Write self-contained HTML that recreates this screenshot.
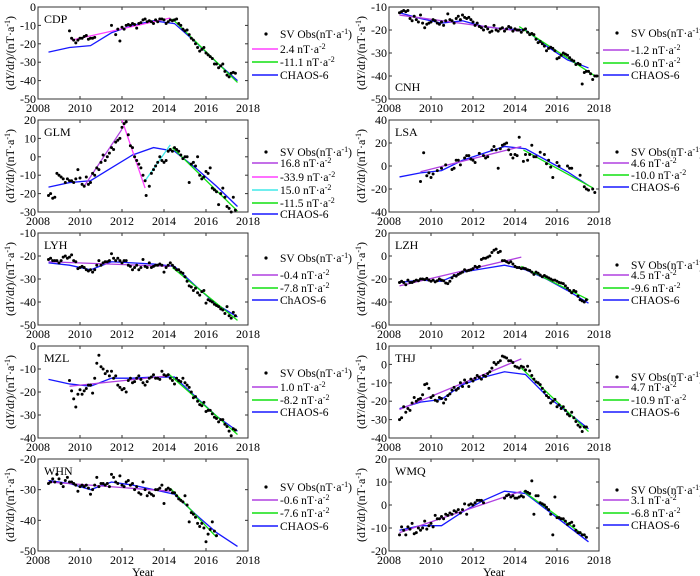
<!DOCTYPE html>
<html><head><meta charset="utf-8"><style>
html,body{margin:0;padding:0;background:#fff}
svg{display:block;font-family:"Liberation Serif",serif}
</style></head><body>
<svg id="chart" width="700" height="576" viewBox="0 0 700 576" xmlns="http://www.w3.org/2000/svg"></svg>
<script>
// ---- data arrays ----
const stations = ["CDP","GLM","LYH","MZL","WHN","CNH","LSA","LZH","THJ","WMQ"];
const yRanges = [[-50,0,10],[-30,20,10],[-50,-10,10],[-40,0,10],[-50,-20,10],[-50,-10,10],[-40,40,20],[-60,20,20],[-40,10,10],[-20,20,10]];
const obsCDP = [[2009.5,-13],[2009.6,-17],[2009.7,-18],[2009.8,-19.5],[2009.9,-18],[2010,-17],[2010.1,-17],[2010.2,-16],[2010.3,-15.5],[2010.4,-17.5],[2010.5,-17],[2010.6,-17],[2010.7,-16.5],[2011.5,-10],[2011.7,-15],[2011.8,-12],[2011.9,-18.5],[2012,-11],[2012.1,-12],[2012.2,-10],[2012.3,-9.5],[2012.4,-10],[2012.5,-9],[2012.6,-9.5],[2012.7,-11.5],[2012.8,-9],[2012.9,-8.5],[2013,-7],[2013.1,-6.5],[2013.2,-8],[2013.3,-7.5],[2013.4,-8],[2013.5,-9],[2013.6,-7],[2013.7,-8],[2013.8,-6.5],[2013.9,-6.5],[2014,-7],[2014.1,-9],[2014.2,-8],[2014.3,-7],[2014.4,-7.5],[2014.5,-7],[2014.6,-6.5],[2014.7,-9],[2014.8,-10],[2014.9,-12],[2015,-13],[2015.1,-12.5],[2015.2,-15],[2015.3,-17],[2015.4,-18],[2015.5,-20],[2015.6,-22],[2015.7,-24],[2015.8,-23],[2015.9,-22],[2016,-25],[2016.1,-26],[2016.2,-27],[2016.3,-28],[2016.4,-31],[2016.5,-31],[2016.6,-33],[2016.7,-32],[2016.8,-31],[2016.9,-35],[2017,-37],[2017.1,-38],[2017.2,-36],[2017.3,-35.5],[2017.4,-36]];
const obsGLM = [[2008.5,-21],[2008.6,-20],[2008.7,-22.5],[2008.8,-22],[2008.9,-9],[2009,-10],[2009.1,-11],[2009.2,-12],[2009.3,-14],[2009.4,-12],[2009.5,-13],[2009.6,-13],[2009.7,-14],[2009.8,-12],[2009.9,-7],[2010,-11.5],[2010.1,-15],[2010.2,-16],[2010.3,-11],[2010.4,-15],[2010.5,-14],[2010.6,-9],[2010.7,-10],[2010.8,-6],[2010.9,-7],[2011,-3],[2011.1,1],[2011.2,-2],[2011.3,0],[2011.4,2],[2011.5,5],[2011.6,4],[2011.7,8],[2011.8,9],[2011.9,10],[2012,16],[2012.1,18],[2012.2,19],[2012.3,12],[2012.4,6],[2012.5,5],[2012.6,0],[2012.7,-2],[2012.8,-4],[2012.9,-6],[2013,-10],[2013.1,-13],[2013.15,-21],[2013.3,-16],[2013.4,-9],[2013.5,-7],[2013.6,-5],[2013.7,-3],[2013.8,0],[2013.9,-2],[2014,-3],[2014.1,-2],[2014.2,3],[2014.3,4],[2014.4,3],[2014.5,5],[2014.6,4],[2014.7,3],[2014.8,1],[2014.9,-1],[2015,0],[2015.1,0],[2015.2,-14],[2015.3,-4],[2015.4,-3],[2015.5,-5],[2015.6,0],[2015.7,-10],[2015.8,-12],[2015.9,-11],[2016,-8],[2016.1,-9],[2016.2,-6],[2016.3,-17],[2016.4,-18],[2016.5,-19],[2016.6,-26],[2016.7,-20],[2016.8,-17],[2016.9,-22],[2017,-27],[2017.1,-28],[2017.2,-30],[2017.3,-22],[2017.4,-29]];
const obsLYH = [[2008.5,-21.5],[2008.6,-21],[2008.7,-22],[2008.8,-22],[2008.9,-22],[2009,-23],[2009.1,-22],[2009.2,-20.5],[2009.3,-20],[2009.4,-21],[2009.5,-20.5],[2009.6,-19.5],[2009.7,-22],[2009.8,-22.5],[2009.9,-25.5],[2010,-25],[2010.1,-24.5],[2010.2,-25],[2010.3,-26],[2010.4,-26.5],[2010.5,-26],[2010.6,-27],[2010.7,-26],[2010.8,-24],[2010.9,-22],[2011,-24],[2011.1,-23],[2011.2,-22.5],[2011.3,-22.5],[2011.4,-22],[2011.5,-19],[2011.6,-21],[2011.7,-22],[2011.8,-21],[2011.9,-22],[2012,-23],[2012.1,-22],[2012.2,-22],[2012.3,-24],[2012.4,-24.5],[2012.5,-26],[2012.6,-25],[2012.7,-24],[2012.8,-26],[2012.9,-25],[2013,-21.5],[2013.1,-24.5],[2013.2,-25],[2013.3,-23],[2013.4,-25],[2013.5,-24.5],[2013.6,-24],[2013.7,-24],[2013.8,-23.5],[2013.9,-24],[2014,-27],[2014.1,-25],[2014.2,-24],[2014.3,-23],[2014.4,-24],[2014.5,-25],[2014.6,-26],[2014.7,-26],[2014.8,-27],[2014.9,-27.5],[2015,-29],[2015.1,-31],[2015.2,-33],[2015.3,-33.5],[2015.4,-35],[2015.5,-34],[2015.6,-36],[2015.7,-37],[2015.8,-35.5],[2015.9,-35],[2016,-40.5],[2016.1,-39],[2016.2,-39.5],[2016.3,-40],[2016.4,-41],[2016.5,-41.5],[2016.6,-42],[2016.7,-43],[2016.8,-43.5],[2016.9,-45],[2017,-42],[2017.1,-46],[2017.2,-47],[2017.3,-44.5],[2017.4,-46]];
const obsMZL = [[2009.5,-15],[2009.6,-19.5],[2009.7,-23],[2009.8,-26.5],[2009.9,-21],[2010,-19],[2010.1,-21],[2010.2,-19.5],[2010.3,-18.5],[2010.4,-17],[2010.5,-17],[2010.6,-20.5],[2010.7,-14],[2010.8,-7.5],[2010.9,-4],[2011,-9],[2011.1,-10],[2011.2,-12],[2011.3,-11],[2011.4,-13],[2011.5,-11],[2011.6,-14],[2011.7,-13],[2011.8,-17],[2011.9,-18],[2012,-19],[2012.1,-18.5],[2012.2,-20],[2012.3,-15],[2012.4,-14],[2012.5,-16],[2012.6,-15.5],[2012.7,-14],[2012.8,-13],[2012.9,-14.5],[2013,-16],[2013.1,-17],[2013.2,-15.5],[2013.3,-14],[2013.4,-13.5],[2013.5,-12.5],[2013.6,-14],[2013.7,-14],[2013.8,-14.5],[2013.9,-11],[2014,-12.5],[2014.1,-13],[2014.2,-12.5],[2014.3,-14],[2014.4,-15],[2014.5,-16.5],[2014.6,-14],[2014.7,-15],[2014.8,-15.5],[2014.9,-14],[2015,-16],[2015.1,-17],[2015.2,-18],[2015.3,-20],[2015.4,-22.5],[2015.5,-22],[2015.6,-24],[2015.7,-25.5],[2015.8,-26],[2015.9,-24.5],[2016,-28.5],[2016.1,-28],[2016.2,-28],[2016.3,-29.5],[2016.4,-31],[2016.5,-31.5],[2016.6,-33],[2016.7,-32],[2016.8,-32],[2016.9,-34],[2017,-35],[2017.1,-37],[2017.2,-39],[2017.3,-36],[2017.4,-36.5]];
const obsWHN = [[2008.5,-28],[2008.6,-27.5],[2008.7,-26.5],[2008.8,-27.5],[2008.9,-25],[2009,-26.5],[2009.1,-28],[2009.2,-29],[2009.3,-27],[2009.4,-26],[2009.5,-27.5],[2009.6,-27.5],[2009.7,-28],[2009.8,-28.5],[2009.9,-30.5],[2010,-29],[2010.1,-28.5],[2010.2,-29],[2010.3,-28.5],[2010.4,-29.5],[2010.5,-31.5],[2010.6,-30],[2010.7,-28.5],[2010.8,-26],[2010.9,-29],[2011,-28],[2011.1,-28],[2011.2,-28.5],[2011.3,-28],[2011.4,-29],[2011.5,-25],[2011.6,-26],[2011.7,-27.5],[2011.8,-28],[2011.9,-25.5],[2012,-28.5],[2012.1,-29],[2012.2,-27.5],[2012.3,-27],[2012.4,-28.5],[2012.5,-28],[2012.6,-30],[2012.7,-29],[2012.8,-31],[2012.9,-31.5],[2013,-27.5],[2013.1,-30],[2013.2,-32],[2013.3,-31],[2013.4,-31.5],[2013.5,-32],[2013.6,-30],[2013.7,-30],[2013.8,-29.5],[2013.9,-28.5],[2014,-34.5],[2014.1,-30],[2014.2,-29.5],[2014.3,-30],[2014.4,-31],[2014.5,-31],[2014.6,-32],[2014.7,-33],[2014.8,-33.5],[2014.9,-34],[2015,-32],[2015.1,-35],[2015.2,-40.5],[2015.3,-37.5],[2015.4,-38],[2015.5,-39],[2015.6,-41],[2015.7,-42],[2015.8,-41],[2015.9,-42.5],[2016,-47],[2016.1,-44.5],[2016.2,-43],[2016.3,-40.5],[2016.4,-43.5],[2016.5,-45]];
const obsCNH = [[2008.5,-12.5],[2008.6,-12],[2008.7,-11.5],[2008.8,-12],[2008.9,-11.5],[2009,-15],[2009.1,-16],[2009.2,-14],[2009.3,-15.5],[2009.4,-16.5],[2009.5,-13.5],[2009.6,-17],[2009.7,-19],[2009.8,-17.5],[2009.9,-17],[2010,-16.5],[2010.1,-15.5],[2010.2,-16],[2010.3,-17],[2010.4,-17.5],[2010.5,-16.5],[2010.6,-18],[2010.7,-16],[2010.8,-13],[2010.9,-15.5],[2011,-16],[2011.1,-17],[2011.2,-15],[2011.3,-14],[2011.4,-15.5],[2011.5,-13.5],[2011.6,-14.5],[2011.7,-15],[2011.8,-14.5],[2011.9,-15.5],[2012,-16.5],[2012.1,-18],[2012.2,-17],[2012.3,-18.5],[2012.4,-19],[2012.5,-20],[2012.6,-18.5],[2012.7,-19.5],[2012.8,-21],[2012.9,-20.5],[2013,-18],[2013.1,-20],[2013.2,-20.5],[2013.3,-19.5],[2013.4,-19],[2013.5,-20.5],[2013.6,-19.5],[2013.7,-18.5],[2013.8,-19],[2013.9,-20.5],[2014,-19.5],[2014.1,-20],[2014.2,-20],[2014.3,-21],[2014.4,-20],[2014.5,-19.5],[2014.6,-21],[2014.7,-22],[2014.8,-21.5],[2014.9,-22],[2015,-24],[2015.1,-25.5],[2015.2,-25],[2015.3,-26],[2015.4,-27],[2015.5,-29],[2015.6,-28],[2015.7,-27.5],[2015.8,-28],[2015.9,-29],[2016,-32.5],[2016.1,-32],[2016.2,-31],[2016.3,-30],[2016.4,-30.5],[2016.5,-31],[2016.6,-32],[2016.7,-33],[2016.8,-33.5],[2016.9,-35],[2017,-34.5],[2017.1,-35],[2017.2,-43.5],[2017.3,-38.5],[2017.4,-38],[2017.5,-38],[2017.6,-39],[2017.7,-41.5],[2017.8,-40],[2017.9,-40]];
const obsLSA = [[2009.5,-13.5],[2009.65,11.5],[2009.8,-8.5],[2009.9,-6],[2010,-10],[2010.1,-7],[2010.3,-4],[2010.5,-2],[2010.7,1],[2011,-3],[2011.1,-2],[2011.2,5],[2011.3,5],[2011.4,1],[2011.6,7],[2011.7,9],[2011.8,9],[2011.9,6],[2012,5],[2012.1,3],[2012.3,11],[2012.5,9],[2012.6,7],[2012.7,8],[2012.9,14],[2013,17],[2013.1,14],[2013.2,-2],[2013.3,15],[2013.4,18],[2013.5,19],[2013.6,20],[2013.7,14],[2013.8,10],[2013.9,7],[2014,10],[2014.1,9],[2014.2,25],[2014.4,4],[2014.5,10],[2014.6,5],[2014.7,10],[2014.8,18],[2014.9,8],[2015,8],[2015.2,12],[2015.4,10],[2015.5,2],[2015.6,5],[2015.7,-1],[2015.8,-10],[2016,3],[2016.1,0],[2016.5,0],[2016.6,-2],[2016.7,-2],[2017.1,-8],[2017.3,-18],[2017.4,-20],[2017.5,-21],[2017.7,-20],[2017.8,-23]];
const obsLZH = [[2008.5,-23],[2008.6,-22],[2008.7,-23],[2008.8,-25],[2008.9,-21],[2009,-23],[2009.1,-23],[2009.2,-22],[2009.3,-21],[2009.4,-21.5],[2009.5,-20],[2009.6,-20],[2009.7,-20.5],[2009.8,-19.5],[2009.9,-21],[2010,-22],[2010.1,-21],[2010.2,-22.5],[2010.3,-21.5],[2010.4,-20],[2010.5,-21],[2010.6,-21.5],[2010.7,-23.5],[2010.8,-24],[2010.9,-22],[2011,-19],[2011.1,-17],[2011.2,-17.5],[2011.3,-16],[2011.4,-15],[2011.5,-14],[2011.6,-12],[2011.7,-13],[2011.8,-12.5],[2011.9,-12],[2012,-11],[2012.1,-9],[2012.2,-10],[2012.3,-9],[2012.4,-3],[2012.5,-2],[2012.6,-2],[2012.7,-1],[2012.8,0],[2012.9,3],[2013,5],[2013.1,6],[2013.2,3],[2013.3,4],[2013.4,-4],[2013.5,-4],[2013.6,-5],[2013.7,-6],[2013.8,-5],[2013.9,-7],[2014,-9],[2014.1,-10],[2014.2,-10],[2014.3,-11],[2014.4,-10.5],[2014.5,-11],[2014.6,-12],[2014.7,-12.5],[2014.8,-14],[2014.9,-16],[2015,-14],[2015.1,-15],[2015.2,-16.5],[2015.3,-18],[2015.4,-17],[2015.5,-18],[2015.6,-19],[2015.7,-20],[2015.8,-21],[2015.9,-21],[2016,-22],[2016.1,-23],[2016.2,-23.5],[2016.3,-24],[2016.4,-26],[2016.5,-28],[2016.6,-30],[2016.7,-32],[2016.8,-30],[2016.9,-31],[2017,-35],[2017.1,-38],[2017.2,-39],[2017.3,-40],[2017.4,-38]];
const obsTHJ = [[2008.5,-30],[2008.6,-29],[2008.7,-23],[2008.8,-26],[2008.9,-24],[2009,-25],[2009.1,-21],[2009.2,-18],[2009.3,-20],[2009.4,-19],[2009.5,-18.5],[2009.6,-16.5],[2009.7,-11],[2009.8,-10.5],[2009.9,-13],[2010,-18],[2010.1,-17],[2010.2,-19.5],[2010.3,-20],[2010.4,-18],[2010.5,-18.5],[2010.6,-21],[2010.7,-19],[2010.8,-17],[2010.9,-16],[2011,-14],[2011.1,-12.5],[2011.2,-14],[2011.3,-13],[2011.4,-10],[2011.5,-12],[2011.6,-8.5],[2011.7,-10],[2011.8,-12],[2011.9,-8],[2012,-9],[2012.1,-7.5],[2012.2,-6],[2012.3,-7],[2012.4,-8],[2012.5,-6],[2012.6,-6.5],[2012.7,-5],[2012.8,-4],[2012.9,-2],[2013,1],[2013.1,0],[2013.2,1],[2013.3,2],[2013.4,4.5],[2013.5,4],[2013.6,3.5],[2013.7,2],[2013.8,2],[2013.9,1],[2014,-1],[2014.1,-1.5],[2014.2,-2],[2014.3,-1],[2014.4,-1.5],[2014.5,-3],[2014.6,-1],[2014.7,-3.5],[2014.8,-6],[2014.9,-8],[2015,-9.5],[2015.1,-10],[2015.2,-11],[2015.3,-13],[2015.4,-15],[2015.5,-17],[2015.6,-18],[2015.7,-21],[2015.8,-20],[2015.9,-19],[2016,-23],[2016.1,-22],[2016.2,-24],[2016.3,-23],[2016.4,-25],[2016.5,-27],[2016.6,-28],[2016.7,-26],[2016.8,-29],[2016.9,-31],[2017,-33],[2017.1,-34],[2017.2,-36.5],[2017.3,-34],[2017.4,-34]];
const obsWMQ = [[2008.5,-13],[2008.6,-9.5],[2008.7,-11],[2008.8,-13],[2008.9,-9.5],[2009,-10.5],[2009.1,-8],[2009.2,-12.5],[2009.3,-12],[2009.4,-10],[2009.5,-11],[2009.6,-10],[2009.7,-7],[2009.8,-10.5],[2009.9,-9],[2010,-8],[2010.1,-9.5],[2010.2,-4.5],[2010.3,-6],[2010.4,-6],[2010.5,-5],[2010.6,-6],[2010.7,-4],[2010.8,-4.5],[2010.9,-3.5],[2011,-4],[2011.1,-2.5],[2011.2,-3],[2011.3,-2],[2011.4,-3.5],[2011.5,-2],[2011.6,0.5],[2011.7,-4],[2011.8,0],[2011.9,0.5],[2012,0],[2012.1,1],[2012.2,2],[2012.3,2],[2012.4,2],[2012.5,1],[2013.5,3],[2013.6,4],[2013.7,4.5],[2013.8,3.5],[2013.9,4],[2014,3],[2014.1,3],[2014.2,3.5],[2014.3,4],[2014.4,3.5],[2014.5,6],[2014.6,5.5],[2014.7,5],[2014.8,10.5],[2014.9,-4],[2015,4],[2015.1,4],[2015.2,1],[2015.3,0.5],[2015.4,0],[2015.5,-1],[2015.6,-2],[2015.7,-4],[2015.8,-13],[2015.9,3.5],[2016,-5.5],[2016.1,-5.5],[2016.2,-6],[2016.3,-6],[2016.4,-7],[2016.5,-8.5],[2016.6,-8],[2016.7,-7.5],[2016.8,-9],[2016.9,-11],[2017,-12],[2017.1,-12],[2017.2,-13],[2017.3,-13],[2017.4,-14]];
const observations = [obsCDP,obsGLM,obsLYH,obsMZL,obsWHN,obsCNH,obsLSA,obsLZH,obsTHJ,obsWMQ];
// fit segments: [x1,y1,x2,y2,kind]
const fits = [
 [[2009.6,-18,2014.3,-6,"m"],[2014.4,-6.5,2017.5,-41,"g"]],
 [[2010.2,-16,2012,15,"p"],[2012,20,2013.1,-17,"m"],[2013.1,-13,2014.3,6.5,"c"],[2014.4,5,2017.5,-29.5,"g"]],
 [[2008.5,-22.5,2014.3,-24.5,"p"],[2014.4,-25,2017.5,-48,"g"]],
 [[2009.5,-17.5,2014.2,-13,"p"],[2014.2,-12,2017.5,-38.5,"g"]],
 [[2008.5,-27.5,2014.3,-30.5,"p"],[2014.3,-29.5,2016.5,-45.5,"g"]],
 [[2008.5,-13.5,2014.2,-20.5,"p"],[2014.2,-18.5,2017.9,-40.5,"g"]],
 [[2009.5,-5,2014.3,17,"p"],[2014.4,14,2017.7,-19,"g"]],
 [[2008.5,-26,2014.3,-1,"p"],[2014.3,-9,2017.5,-38,"g"]],
 [[2008.5,-24.5,2014.3,3,"p"],[2014.3,-2,2017.5,-36.5,"g"]],
 [[2008.5,-12,2014.3,6,"p"],[2014.4,6,2017.4,-14,"g"]]
];
const chaosYears = [2008.5,2009.5,2010.5,2011.5,2012.5,2013.5,2014.5,2015.5,2016.5,2017.5];
const chaosValues = [
 [-24.5,-22,-21,-14,-10,-7.5,-9,-19,-30,-40],
 [-16.5,-14,-13,-6,1,5,3,-6,-16,-27],
 [-23,-24,-26,-22.5,-23,-23.5,-24.5,-33,-41,-46.5],
 [-14.5,-16.5,-17.5,-14,-14,-13.5,-13.5,-22,-30.5,-37],
 [-27,-28,-30,-27.5,-28.5,-30,-31.5,-38,-44,-48.5],
 [-12.5,-15,-17,-16,-18.5,-19.5,-20,-27,-33,-36.5],
 [-9.5,-6,-4,5,11,17,15,5,-5,-17],
 [-23,-21,-22,-14,-11,-8,-12,-20,-30,-41],
 [-24,-20.5,-19,-11,-7,-4,-5.5,-17,-26,-35],
 [-11,-9,-9,-3,2,6,5,-2,-9,-16]
];
const fitLabels = [["2.4","-11.1"],["16.8","-33.9","15.0","-11.5"],["-0.4","-7.8"],["1.0","-8.2"],["-0.6","-7.6"],["-1.2","-6.0"],["4.6","-10.0"],["4.5","-9.6"],["4.7","-10.9"],["3.1","-6.8"]];
const chaosLabels = ["CHAOS-6","CHAOS-6","ChAOS-6","CHAOS-6","CHAOS-6","CHAOS-6","CHAOS-6","CHAOS-6","CHAOS-6","CHAOS-6"];
const xTicks = [2008,2010,2012,2014,2016,2018];
// legend row y positions (layout)
const legendRows = [[34,49,62,75],[152,163,177,190,203,214],[258,275,288,300],[373,387,400,412],[487,500,513,526],[33,50,63,75],[152,163,175,187],[265,275,288,300],[377,387,400,412],[490,500,513,525]];

const colors = {m:"#ff40ff",p:"#b040e0",c:"#40e8e8",g:"#10e010",b:"#1818ff"};
const NS = "http://www.w3.org/2000/svg";
const svg = document.getElementById('chart');
function mk(tag, attrs, parent){const e=document.createElementNS(NS,tag);for(const k in attrs)e.setAttribute(k,attrs[k]);(parent||svg).appendChild(e);return e;}

for (let i=0;i<10;i++){
  const col = i<5?0:1, row = i%5;
  const x0 = col===0?38:389, x1 = x0+210;
  const top = 7+row*113, bot = top+92;
  const [ymin,ymax,ystep] = yRanges[i];
  const sx = v => x0 + (v-2008)/10*(x1-x0);
  const sy = v => bot - (v-ymin)/(ymax-ymin)*(bot-top);
  const g = mk('g',{});
  
  
  const box = mk('rect',{x:x0,y:top,width:x1-x0,height:bot-top,fill:'none',stroke:'#333','stroke-width':1},g);
  
  
  xTicks.forEach(t=>{
    const X=sx(t);
    mk('line',{x1:X,y1:bot,x2:X,y2:bot-3,stroke:'#333'},g);
    mk('line',{x1:X,y1:top,x2:X,y2:top+3,stroke:'#333'},g);
    const tl=mk('text',{x:X,y:bot+13,'text-anchor':'middle','font-size':12},g);
    
    
    tl.textContent=t;
  });
  for(let v=ymin; v<=ymax+1e-9; v+=ystep){
    const Y=sy(v);
    mk('line',{x1:x0,y1:Y,x2:x0+3,y2:Y,stroke:'#333'},g);
    mk('line',{x1:x1,y1:Y,x2:x1-3,y2:Y,stroke:'#333'},g);
    const tl=mk('text',{x:x0-2,y:Y+4,'text-anchor':'end','font-size':12},g);
    
    
    tl.textContent=v;
  }
  const yt = mk('text',{transform:`translate(${x0-24},${(top+bot)/2}) rotate(-90)`,'text-anchor':'middle','font-size':12},g);
  
  
  yt.innerHTML = '(d<tspan font-style="italic">Y</tspan>/d<tspan font-style="italic">t</tspan>)/(nT·a<tspan baseline-shift="super" font-size="8">-1</tspan>)';
  const nameY = stations[i]==="CNH" ? bot-8 : top+16;
  const st = mk('text',{x:x0+6,y:nameY,'font-size':12},g);
  
  
  st.textContent = stations[i];
  const pts = chaosYears.map((yr,k)=>sx(yr)+','+sy(chaosValues[i][k])).join(' ');
  const ch = mk('polyline',{points:pts,fill:'none',stroke:colors.b,'stroke-width':1.3},g);
  
  
  fits[i].forEach(f=>{
    const l = mk('line',{x1:sx(f[0]),y1:sy(f[1]),x2:sx(f[2]),y2:sy(f[3]),stroke:colors[f[4]],'stroke-width':1.3},g);
    
    
  });
  observations[i].forEach(p=>{
    const c = mk('circle',{cx:sx(p[0]),cy:sy(p[1]),r:1.5,fill:'#000'},g);
    
    
  });
  const lr = legendRows[i];
  const lg = mk('g',{},g);
  
  
  mk('circle',{cx:x0+228,cy:lr[0],r:1.6,fill:'#000'},lg);
  const t0 = mk('text',{x:x0+242,y:lr[0]+4,'font-size':11.5},lg);
  
  
  t0.innerHTML = 'SV Obs(nT·a<tspan baseline-shift="super" font-size="8">-1</tspan>)';
  fits[i].forEach((f,k)=>{
    const yy = lr[k+1];
    mk('line',{x1:x0+214,y1:yy,x2:x0+240,y2:yy,stroke:colors[f[4]],'stroke-width':1.5},lg);
    const t = mk('text',{x:x0+242,y:yy+4,'font-size':11.5},lg);
    
    
    t.innerHTML = fitLabels[i][k]+' nT·a<tspan baseline-shift="super" font-size="8">-2</tspan>';
  });
  const yy = lr[lr.length-1];
  mk('line',{x1:x0+214,y1:yy,x2:x0+240,y2:yy,stroke:colors.b,'stroke-width':1.5},lg);
  const tc = mk('text',{x:x0+242,y:yy+4,'font-size':11.5},lg);
  
  
  tc.textContent = chaosLabels[i];
  if(row===4){
    const xl = mk('text',{x:(x0+x1)/2,y:bot+25,'text-anchor':'middle','font-size':12},g);
    
    
    xl.textContent = 'Year';
  }
}
</script>
</body></html>
